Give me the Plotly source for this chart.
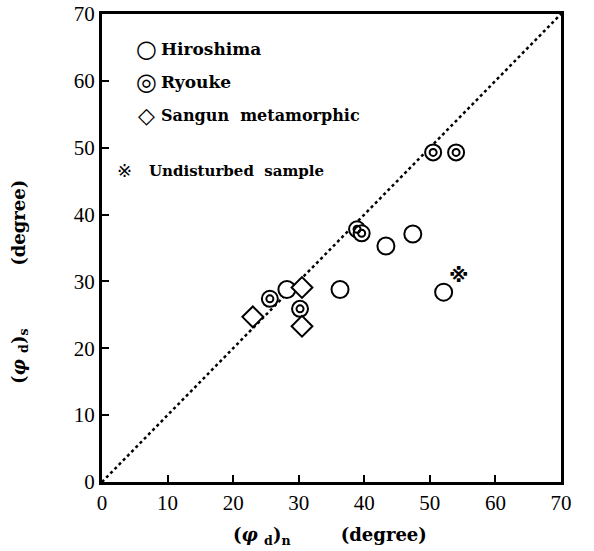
import plotly.graph_objects as go

# Data
hiro_x = [28.2, 36.3, 43.3, 47.4, 52.1]
hiro_y = [28.8, 28.8, 35.3, 37.1, 28.4]
ryo_x = [25.6, 30.2, 38.9, 39.6, 50.5, 54.0]
ryo_y = [27.4, 25.9, 37.8, 37.2, 49.3, 49.3]
san_x = [23.0, 30.5, 30.5]
san_y = [24.7, 29.1, 23.3]
und_x = [54.4]
und_y = [30.6]
line_x = [0, 70]
line_y = [0, 70]
ticks = [0, 10, 20, 30, 40, 50, 60, 70]

legend_symbols = ["○", "◎", "◇", "※"]
legend_labels = ["Hiroshima", "Ryouke", "Sangun  metamorphic", "Undisturbed  sample"]
x_title = "<b>(<i>φ</i> <sub>d</sub>)<sub>n</sub>        (degree)</b>"
y_title = "<b>(<i>φ</i> <sub>d</sub>)<sub>s</sub>          (degree)</b>"

SERIF = "Liberation Serif"
BSERIF = "DejaVu Serif"
fig = go.Figure()
fig.add_trace(go.Scatter(x=line_x, y=line_y, mode="lines",
                         line=dict(color="black", width=2.5, dash="dot"), showlegend=False))
fig.add_trace(go.Scatter(x=hiro_x, y=hiro_y, mode="markers",
                         marker=dict(symbol="circle", size=17, color="white",
                                     line=dict(color="black", width=2)), showlegend=False))
fig.add_trace(go.Scatter(x=ryo_x, y=ryo_y, mode="markers",
                         marker=dict(symbol="circle", size=16, color="white",
                                     line=dict(color="black", width=2)), showlegend=False))
fig.add_trace(go.Scatter(x=ryo_x, y=ryo_y, mode="markers",
                         marker=dict(symbol="circle-open", size=7, color="black",
                                     line=dict(color="black", width=2)), showlegend=False))
fig.add_trace(go.Scatter(x=san_x, y=san_y, mode="markers",
                         marker=dict(symbol="diamond", size=16, color="white",
                                     line=dict(color="black", width=2)), showlegend=False))
fig.add_trace(go.Scatter(x=und_x, y=und_y, mode="text", text=["<b>※</b>"],
                         textfont=dict(family="DejaVu Sans", size=20, color="black"),
                         showlegend=False))

sym_pos = [(0.097, 0.925, 24), (0.097, 0.854, 24), (0.097, 0.784, 22), (0.048, 0.665, 18)]
lab_pos = [(0.125, 0.925, 17), (0.125, 0.854, 17), (0.125, 0.784, 16), (0.098, 0.665, 15)]
for sym, lab, sp, lp in zip(legend_symbols, legend_labels, sym_pos, lab_pos):
    fig.add_annotation(x=sp[0], y=sp[1], xref="paper", yref="paper", text=sym,
                       showarrow=False, xanchor="center", yanchor="middle",
                       font=dict(family="DejaVu Sans", size=sp[2], color="black"))
    fig.add_annotation(x=lp[0], y=lp[1], xref="paper", yref="paper", text="<b>" + lab + "</b>",
                       showarrow=False, xanchor="left", yanchor="middle",
                       font=dict(family=BSERIF, size=lp[2], color="black"))

fig.add_annotation(x=0.497, y=-0.115, xref="paper", yref="paper", text=x_title,
                   showarrow=False, xanchor="center", yanchor="middle",
                   font=dict(family=BSERIF, size=18, color="black"))
fig.add_annotation(x=-0.179, y=0.427, xref="paper", yref="paper", text=y_title,
                   showarrow=False, xanchor="center", yanchor="middle", textangle=-90,
                   font=dict(family=BSERIF, size=18, color="black"))

axis_common = dict(range=[0, 70], tickvals=ticks, ticks="inside", ticklen=7, tickwidth=2,
                   tickcolor="black", showline=True, linecolor="black", linewidth=3,
                   mirror=True, showgrid=False, zeroline=False, automargin=False,
                   tickfont=dict(family=SERIF, size=21, color="black"))
fig.update_xaxes(**axis_common)
fig.update_yaxes(**axis_common)
fig.update_layout(width=594, height=551, margin=dict(l=102, r=33, t=14, b=69),
                  paper_bgcolor="white", plot_bgcolor="white")
fig.write_html("out.html")
